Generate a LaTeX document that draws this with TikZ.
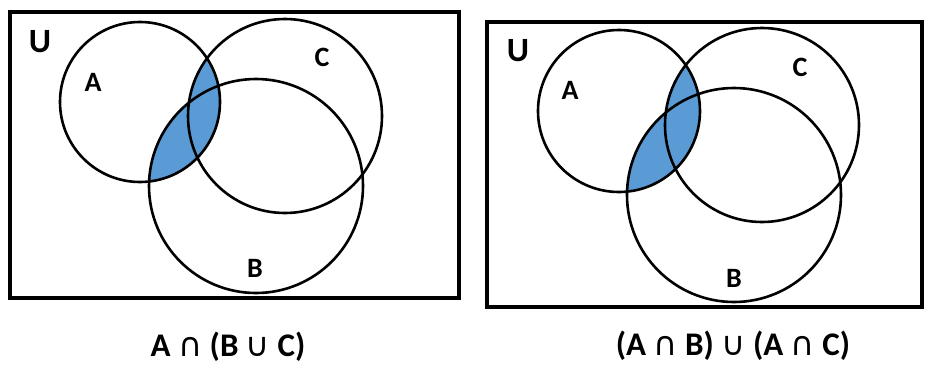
\documentclass[tikz,border=0pt]{standalone}
\usepackage{fontspec}
\setmainfont{Carlito}
\newfontfamily\symfont{DejaVu Sans}
\usetikzlibrary{positioning}

\definecolor{setblue}{RGB}{91,155,213}
\newcommand{\capsym}{{\symfont\mdseries ∩}}
\newcommand{\cupsym}{{\symfont\mdseries ∪}}

\begin{document}
\begin{tikzpicture}[x=1pt, y=-1pt, every node/.style={font=\bfseries\fontsize{28}{28}\selectfont, inner sep=0pt},
    set/.style={line width=2.6pt}, universe/.style={line width=3.2pt},
    caption/.style={font=\bfseries\fontsize{33}{33}\selectfont}]
          \useasboundingbox (0,0) rectangle (927,365);

          % left: A and (B or C)
          \coordinate (a1) at (140,102);
          \coordinate (c1) at (285,116);
          \coordinate (b1) at (256,186);
          \begin{scope}
            \clip (a1) circle (80pt);
            \fill[setblue] (b1) circle (107pt) (c1) circle (97pt);
          \end{scope}
          \draw[set] (a1) circle (80pt);
          \draw[set] (c1) circle (97pt);
          \draw[set] (b1) circle (107pt);
          \draw[universe] (10,12) rectangle (459,298);

          \node[font=\bfseries\fontsize{34}{34}\selectfont] (u1) at (40,42) {U};
          \node (la1) at (93,82) {A};
          \node (lc1) at (322,57) {C};
          \node (lb1) at (255,268) {B};
          \node[caption] (cap1) at (228,347) {A \capsym{} (B \cupsym{} C)};

          % right: (A and B) or (A and C)
          \coordinate (a2) at (619,111);
          \coordinate (c2) at (762,125);
          \coordinate (b2) at (734,195);
          \begin{scope}
            \clip (a2) circle (81pt);
            \fill[setblue] (b2) circle (107pt) (c2) circle (97pt);
          \end{scope}
          \draw[set] (a2) circle (81pt);
          \draw[set] (c2) circle (97pt);
          \draw[set] (b2) circle (107pt);
          \draw[universe] (487,22) rectangle (922,307);

          \node[font=\bfseries\fontsize{34}{34}\selectfont] (u2) at (518,51) {U};
          \node (la2) at (570,90) {A};
          \node (lc2) at (800,67) {C};
          \node (lb2) at (734,278) {B};
          \node[caption] (cap2) at (733,346) {(A \capsym{} B) \cupsym{} (A \capsym{} C)};
        \end{tikzpicture}
\end{document}
